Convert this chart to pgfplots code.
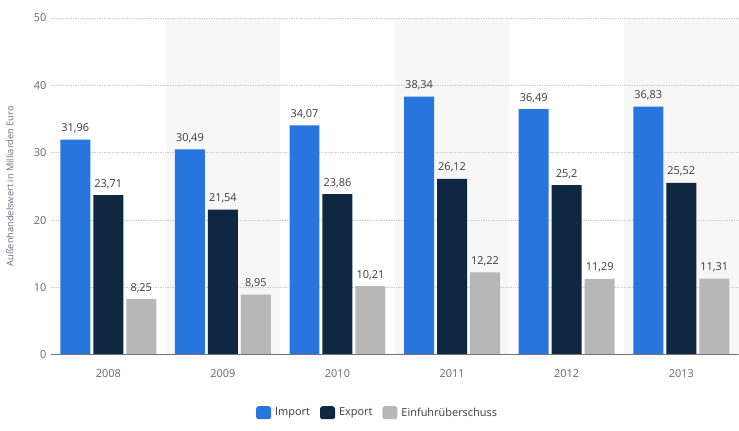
\documentclass[border=0pt]{standalone}
\usepackage{pgfplots}
\pgfplotsset{compat=1.18}
\usepackage{fontspec}
\setmainfont{Open Sans}
\definecolor{cImp}{HTML}{2876DD}
\definecolor{cExp}{HTML}{0F2741}
\definecolor{cEin}{HTML}{B7B7B7}
\definecolor{band}{HTML}{F7F7F7}
\definecolor{tick}{HTML}{666666}
\definecolor{vlab}{HTML}{3A3A3A}
\definecolor{ylab}{HTML}{6A6A80}
\begin{document}
\begin{tikzpicture}
\begin{axis}[
  set layers,
  at={(0,0)}, anchor=south west,
  scale only axis,
  width=688bp, height=337bp,
  xmin=-0.5, xmax=5.5, ymin=0, ymax=50,
  ybar=3bp, bar width=30bp,
  xtick={0,1,2,3,4,5},
  xticklabels={2008,2009,2010,2011,2012,2013},
  ytick={0,10,20,30,40,50},
  major tick length=0pt,
  axis line style={draw=none},
  ymajorgrids,
  grid style={color=black!20, line width=0.8bp, dash pattern=on 0.8bp off 0.9bp},
  tick label style={font=\fontsize{11}{13}\selectfont, text=tick},
  /pgf/number format/assume math mode=true,
  xticklabel style={yshift=-11bp},
  yticklabel style={xshift=-1bp},
  ylabel={Außenhandelswert in Milliarden Euro},
  every axis y label/.style={at={(axis description cs:-0.0596,0.5)}, rotate=90, anchor=center},
  ylabel style={font=\fontsize{9.3}{10}\selectfont, text=ylab},
  nodes near coords,
  nodes near coords style={font=\fontsize{11}{13}\selectfont, text=vlab, /pgf/number format/use comma, /pgf/number format/precision=2, yshift=3bp},
  legend style={at={(0.475,-0.172)}, anchor=center, draw=none, legend columns=-1,
    font=\fontsize{11}{13}\selectfont, text=vlab,
    /tikz/every odd column/.append style={column sep=2bp},
    /tikz/every even column/.append style={column sep=8bp}},
  legend image code/.code={\fill[#1, rounded corners=2.5bp] (0bp,-6.5bp) rectangle (15bp,6.5bp);},
]
\begin{pgfonlayer}{axis background}
\fill[band] (axis cs:0.5,0) rectangle (axis cs:1.5,50);
\fill[band] (axis cs:2.5,0) rectangle (axis cs:3.5,50);
\fill[band] (axis cs:4.5,0) rectangle (axis cs:5.5,50);
\end{pgfonlayer}
\addplot[fill=cImp, draw=none] coordinates {(0,31.96) (1,30.49) (2,34.07) (3,38.34) (4,36.49) (5,36.83)};
\addplot[fill=cExp, draw=none] coordinates {(0,23.71) (1,21.54) (2,23.86) (3,26.12) (4,25.2) (5,25.52)};
\addplot[fill=cEin, draw=none] coordinates {(0,8.25) (1,8.95) (2,10.21) (3,12.22) (4,11.29) (5,11.31)};
\legend{Import, Export, Einfuhrüberschuss}
\draw[color=black!55, line width=1.5bp] (axis cs:-0.5,0) -- (axis cs:5.5,0);
\end{axis}
\path[use as bounding box] (-51bp,-76bp) rectangle (688bp,355bp);
\end{tikzpicture}
\end{document}
